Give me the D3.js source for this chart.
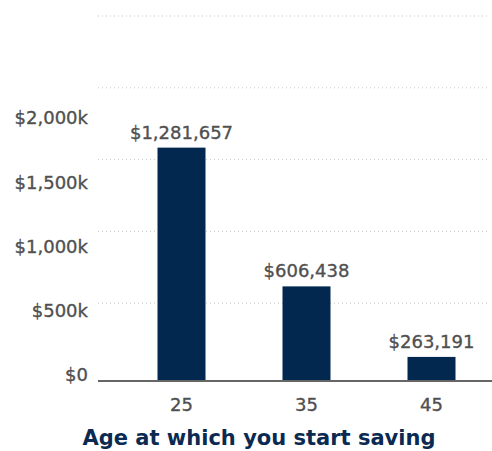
<!DOCTYPE html>
<html>
<head>
<meta charset="utf-8">
<script src="https://cdn.jsdelivr.net/npm/d3@7"></script>
<style>
  body { margin: 0; background: #fff; }
  text { font-family: "DejaVu Sans", sans-serif; }
  .lbl { fill: #505050; stroke: #505050; stroke-width: 0.35px; font-size: 18px; }
</style>
</head>
<body>
<div id="chart"></div>
<script>
// data
const ages = ["25", "35", "45"];
const savings = [1281657, 606438, 263191];
const tickValues = [0, 500000, 1000000, 1500000, 2000000];
const gridValues = [400000, 800000, 1200000, 1600000, 2000000];
const axisTitle = "Age at which you start saving";

const width = 492, height = 451;
const baseY = 381, left = 98;

const svg = d3.select("#chart").append("svg")
    .attr("width", width)
    .attr("height", height);

// bar scale (bars sit on baseline)
const y = d3.scaleLinear()
    .domain([146000, 2000000])
    .range([baseY, 0]);

// label scale and gridline scale (as drawn in the original)
const yLabel = d3.scaleLinear().domain([0, 2000000]).range([375, 118]);
const yGrid = d3.scaleLinear().domain([0, 2000000]).range([375, 16]);

const x = d3.scaleBand()
    .domain(ages)
    .range([119, 494])
    .paddingInner(0.616)
    .paddingOuter(0.308);

// dotted gridlines
svg.append("g")
  .selectAll("line")
  .data(gridValues)
  .join("line")
    .attr("x1", left)
    .attr("x2", 490)
    .attr("y1", d => yGrid(d))
    .attr("y2", d => yGrid(d))
    .attr("stroke", "#c8c8c8")
    .attr("stroke-width", 1)
    .attr("stroke-dasharray", "1,3");

// y labels
const fmtK = d => d === 0 ? "$0" : "$" + d3.format(",")(d / 1000) + "k";
svg.append("g")
  .selectAll("text")
  .data(tickValues)
  .join("text")
    .attr("class", "lbl")
    .attr("x", 88)
    .attr("y", d => yLabel(d))
    .attr("dy", "0.35em")
    .attr("text-anchor", "end")
    .text(fmtK);

// bars
const data = ages.map((a, i) => ({ age: a, value: savings[i] }));
svg.append("g")
  .selectAll("rect")
  .data(data)
  .join("rect")
    .attr("x", d => x(d.age))
    .attr("y", d => y(d.value))
    .attr("width", x.bandwidth())
    .attr("height", d => baseY - y(d.value))
    .attr("fill", "#03284f");

// value labels
svg.append("g")
  .selectAll("text")
  .data(data)
  .join("text")
    .attr("class", "lbl")
    .attr("x", d => x(d.age) + x.bandwidth() / 2)
    .attr("y", d => y(d.value) - 9)
    .attr("text-anchor", "middle")
    .text(d => "$" + d3.format(",")(d.value));

// baseline
svg.append("line")
    .attr("x1", left)
    .attr("x2", width)
    .attr("y1", baseY)
    .attr("y2", baseY)
    .attr("stroke", "#666")
    .attr("stroke-width", 2);

// x axis labels
svg.append("g")
  .selectAll("text")
  .data(ages)
  .join("text")
    .attr("class", "lbl")
    .attr("x", d => x(d) + x.bandwidth() / 2)
    .attr("y", 405)
    .attr("dy", "0.35em")
    .attr("text-anchor", "middle")
    .text(d => d);

// axis title
svg.append("text")
    .attr("x", 259)
    .attr("y", 438)
    .attr("dy", "0.35em")
    .attr("text-anchor", "middle")
    .attr("fill", "#0b2a52")
    .style("font-size", "21px")
    .style("font-weight", "bold")
    .text(axisTitle);
</script>
</body>
</html>
